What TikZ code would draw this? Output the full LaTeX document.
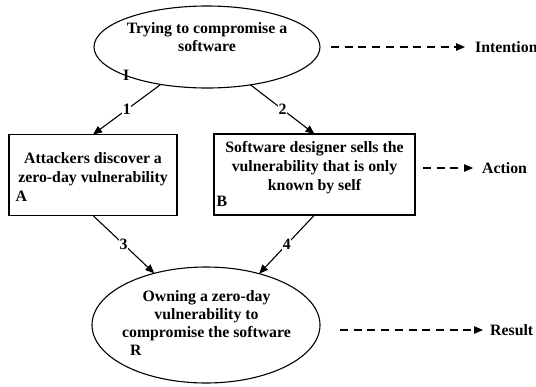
\documentclass[tikz,border=0pt]{standalone}
\usepackage{fontspec}
\setmainfont{Liberation Serif}
\usetikzlibrary{shapes.geometric,arrows.meta}
\begin{document}
\begin{tikzpicture}[x=1pt,y=-1pt,
  every node/.style={font=\fontsize{15.8}{18.8}\selectfont\bfseries},
  shapeline/.style={draw, line width=1.1pt},
  ell/.style={shapeline, ellipse, inner sep=0pt, outer sep=0pt},
  box/.style={shapeline, rectangle, inner sep=0pt, outer sep=0pt},
  txt/.style={align=center, inner sep=0pt, anchor=north},
  tag/.style={inner sep=0pt, anchor=base west},
  arr/.style={line width=1.1pt, -{Triangle[length=9pt,width=7.5pt]}},
  num/.style={fill=white, inner sep=0.5pt},
  dsh/.style={line width=1.1pt, dash pattern=on 8pt off 5.7pt, -{Triangle[length=9pt,width=7.5pt]}},
  lbl/.style={inner sep=0pt, anchor=west}
]
\useasboundingbox (0,0) rectangle (536,386);
\fill[white] (0,0) rectangle (536,386);

% Intention ellipse
\node[ell, minimum width=226pt, minimum height=82pt] (I) at (207,47) {};
\node[txt, font=\fontsize{15.8}{18.4}\selectfont\bfseries] (Itxt) at (207,22.3) {Trying to compromise a\\software};
\node[tag] (Itag) at (123,80) {I};

% Action boxes
\node[box, minimum width=168pt, minimum height=81pt] (A) at (93,175) {};
\node[txt] (Atxt) at (93,152.6) {Attackers discover a\\zero-day vulnerability};
\node[tag] (Atag) at (15.5,201.7) {A};

\node[box, minimum width=201pt, minimum height=81pt] (B) at (314.5,174.5) {};
\node[txt] (Btxt) at (314.5,141.2) {Software designer sells the\\vulnerability that is only\\known by self};
\node[tag] (Btag) at (216.5,206.7) {B};

% Result ellipse
\node[ell, minimum width=228pt, minimum height=116pt] (R) at (206,325) {};
\node[txt, font=\fontsize{15.8}{18}\selectfont\bfseries] (Rtxt) at (206.5,290.4) {Owning a zero-day\\vulnerability to\\compromise the software};
\node[tag] (Rtag) at (130,355) {R};

% connectors
\draw[arr] (I.219) -- node[num] (n1) {1} (A.north);
\draw[arr] (I.319) -- node[num] (n2) {2} (B.north);
\draw[arr] (A.south) -- node[num] (n3) {3} (R.135.5);
\draw[arr] (B.south) -- node[num] (n4) {4} (R.44.5);

% level labels
\coordinate (iS) at (331,47);
\node[lbl] (intent) at (475,47) {Intention};
\draw[dsh, shorten >=10pt] (iS) -- (intent.west);

\coordinate (aS) at (423,168);
\node[lbl] (action) at (482,168) {Action};
\draw[dsh, shorten >=9pt] (aS) -- (action.west);

\coordinate (rS) at (340,330);
\node[lbl] (result) at (490,330) {Result};
\draw[dsh, shorten >=7pt] (rS) -- (result.west);
\end{tikzpicture}
\end{document}
